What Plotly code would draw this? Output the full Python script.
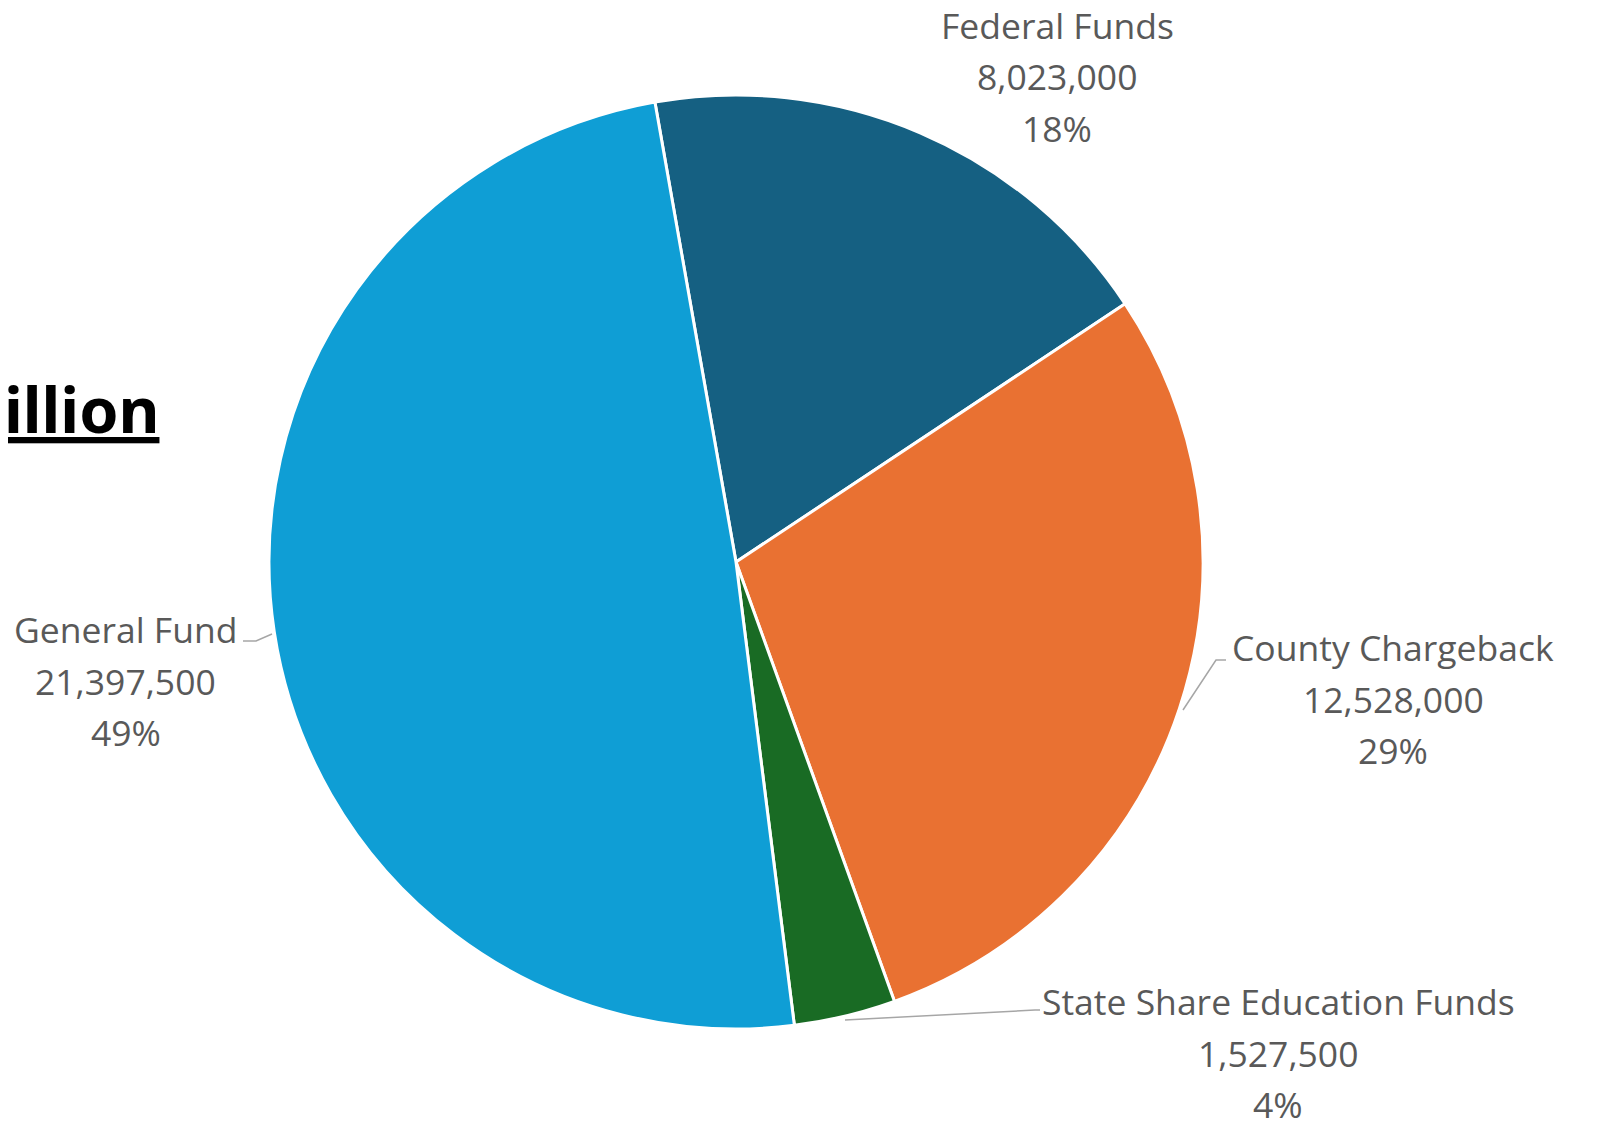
import plotly.graph_objects as go

labels = ["Federal Funds", "County Chargeback", "State Share Education Funds", "General Fund"]
values = [8023000, 12528000, 1527500, 21397500]
colors = ["#156082", "#E97132", "#196B24", "#0F9ED5"]

# page has an 8px body margin; size the figure so it fits the 1600x1141 window
OFF = 8
W, H = 1600 - 2 * OFF, 1141 - 2 * OFF
total = sum(values)

def px(x, y):
    """window pixel -> paper coords"""
    return (x - OFF) / W, 1 - (y - OFF) / H

fig = go.Figure()
x0, y1 = px(269, 95)
x1, y0 = px(1203, 1029)
fig.add_trace(go.Pie(
    labels=labels, values=values, sort=False, direction="clockwise",
    rotation=-10, textinfo="none", hole=0,
    marker=dict(colors=colors, line=dict(color="white", width=3)),
    domain=dict(x=[x0, x1], y=[y0, y1]),
    showlegend=False,
))

# label block centres (x centre, y of first line) in window pixels
label_pos = {
    "Federal Funds": (1057, 25),
    "County Chargeback": (1393, 647),
    "State Share Education Funds": (1278, 1001),
    "General Fund": (126, 629),
}
annotations = []
font = dict(family="Open Sans", size=35.5, color="#595959")
for lab, val in zip(labels, values):
    cx, cy = label_pos[lab]
    pct = round(val / total * 100)
    lines = [lab, f"{val:,}", f"{pct}%"]
    for i, t in enumerate(lines):
        x, y = px(cx, cy + i * 51.5)
        annotations.append(dict(x=x, y=y, xref="paper", yref="paper", text=t,
                                showarrow=False, xanchor="center", yanchor="middle",
                                borderpad=0, font=font))

# partially visible title on the left
tx, ty = px(161, 408)
annotations.append(dict(x=tx, y=ty, xref="paper", yref="paper",
                        text=f"<b><u>Total: ${total/1e6:.1f} million</u></b>",
                        showarrow=False, xanchor="right", yanchor="middle",
                        font=dict(family="Noto Sans", size=63, color="black")))

def path(points):
    s = ""
    for i, (x, y) in enumerate(points):
        X, Y = px(x, y)
        s += ("M" if i == 0 else "L") + f"{X},{Y} "
    return s

leader = [
    [(243, 641), (256, 641), (272, 634)],
    [(1183, 710), (1216, 660), (1226, 660)],
    [(845, 1020), (1035, 1010), (1040, 1010)],
]
shapes = [dict(type="path", xref="paper", yref="paper", path=path(p),
               line=dict(color="#A6A6A6", width=1.5)) for p in leader]

fig.update_layout(width=W, height=H, margin=dict(l=0, r=0, t=0, b=0),
                  paper_bgcolor="white", plot_bgcolor="white",
                  annotations=annotations, shapes=shapes)
fig.write_html("out.html")
